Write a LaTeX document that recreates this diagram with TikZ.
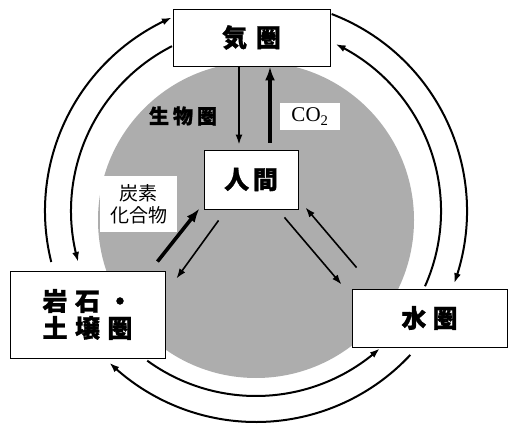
\documentclass[tikz,border=0pt]{standalone}
\usepackage{fontspec}
\newfontfamily\jp{Noto Sans CJK JP}[BoldFeatures={FakeBold=1.2}]
\newfontfamily\serifrm{Liberation Serif}
\usetikzlibrary{arrows.meta,bending}
\definecolor{biogray}{gray}{0.68}
\begin{document}
\begin{tikzpicture}[x=1pt,y=1pt,
  sphere/.style={draw=black, line width=0.9pt, fill=white, inner sep=0pt,
    font=\jp\bfseries\fontsize{25}{30}\selectfont, align=center},
  tagbox/.style={fill=white, inner sep=0pt, align=center},
  cyc/.style={line width=2pt, -{Latex[length=10pt,width=7pt]}},
  flow/.style={line width=1.6pt, -{Latex[length=10pt,width=7pt]}},
  bigflow/.style={line width=3.6pt, -{Latex[length=14pt,width=10pt]}}]
\useasboundingbox (0,0) rectangle (508,423);
% biosphere disc
\fill[biogray] (256,203) circle[radius=158];
\coordinate (O) at (256,212);
% boxes
\node[sphere, minimum width=157, minimum height=57] (kiken) at (251.5,385.5) {気\hspace{0.35em}圏};
\node[sphere, minimum width=94, minimum height=59] (ningen) at (251,243.5) {人\hspace{0.15em}間};
\node[sphere, minimum width=155, minimum height=87] (ganseki) at (87.5,108.5)
  {岩\hspace{0.3em}石\hspace{0.3em}・\\[-3pt]土\hspace{0.3em}壌\hspace{0.3em}圏};
\node[sphere, minimum width=155, minimum height=58] (suiken) at (429.5,105) {水\hspace{0.25em}圏};
% labels
\node[font=\jp\bfseries\fontsize{20}{24}\selectfont] (seibutsu) at (183,307) {生\hspace{0.2em}物\hspace{0.2em}圏};
\node[tagbox, minimum width=60, minimum height=27, font=\serifrm\fontsize{21}{24}\selectfont] (co2) at (310,306.5) {CO\textsubscript{2}};
\node[tagbox, minimum width=77, minimum height=56, font=\jp\fontsize{19}{22}\selectfont] (tanso) at (138.5,219) {炭素\\化合物};
% vertical flows
\draw[flow] ([xshift=-12.5pt]kiken.south) -- ([xshift=-12pt,yshift=5pt]ningen.north);
\draw[bigflow] ([xshift=19pt,yshift=7pt]ningen.north) -- ([xshift=18.5pt]kiken.south);
% diagonal flows
\draw[bigflow] ([xshift=-8pt,yshift=9pt]ganseki.north east) -- ([xshift=-4pt,yshift=1pt]ningen.south west);
\draw[flow] ([xshift=15pt,yshift=-11pt]ningen.south west) -- ([xshift=11pt,yshift=-8pt]ganseki.north east);
\draw[flow] ([xshift=-14pt,yshift=-8pt]ningen.south east) -- ([xshift=-10pt,yshift=4pt]suiken.north west);
\draw[flow] ([xshift=5pt,yshift=21pt]suiken.north west) -- ([xshift=7pt,yshift=2pt]ningen.south east);
% cycle arcs
\draw[cyc] ([shift={(194:211)}]O) arc[start angle=194, end angle=113.5, radius=211];
\draw[cyc] ([shift={(117:185)}]O) arc[start angle=117, end angle=196, radius=185];
\draw[cyc] ([shift={(69:211)}]O) arc[start angle=69, end angle=-20, radius=211];
\draw[cyc] ([shift={(-24:185)}]O) arc[start angle=-24, end angle=64.5, radius=185];
\draw[cyc] ([shift={(234:185)}]O) arc[start angle=234, end angle=312, radius=185];
\draw[cyc] ([shift={(317:211)}]O) arc[start angle=317, end angle=226, radius=211];
\end{tikzpicture}
\end{document}
